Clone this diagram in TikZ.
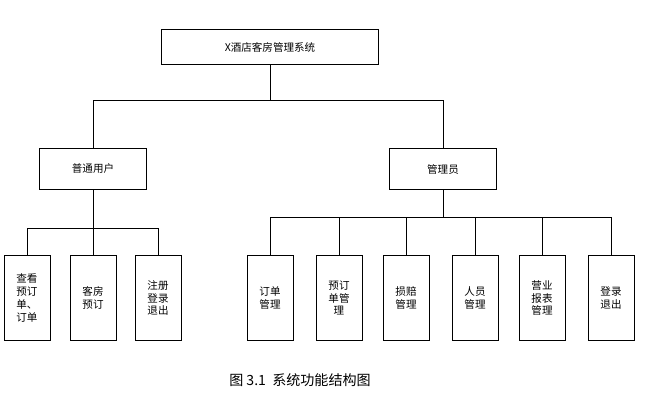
\documentclass[tikz,border=0pt]{standalone}
\usepackage{fontspec}
\setmainfont{Noto Sans CJK SC}
\begin{document}
\begin{tikzpicture}[%
        x = 0.03cm, y = -0.03cm,
        line width = 0.2mm,
        box/.style = {draw, minimum width = 3.2cm, minimum height = 1.25cm, font = \small},
        leaf/.style = {draw, minimum width = 1.38cm, minimum height = 2.55cm, align = center, font = \small}
    ]
        \useasboundingbox (0, 0) rectangle (668, 400);

        % Top of the tree.
        \node[box, minimum width = 6.5cm, minimum height = 1.05cm] (System) at (270, 47) {X酒店客房管理系统};

        % Second level.
        \node[box] (User) at (93, 169) {普通用户};
        \node[box] (Admin) at (443, 169) {管理员};

        % Leaves for the user.
        \node[leaf] (Check) at (27, 298) {查看\\预订\\单、\\订单};
        \node[leaf] (Book) at (93, 298) {客房\\预订};
        \node[leaf] (Login) at (158, 298) {注册\\登录\\退出};

        % Leaves for the admin.
        \node[leaf] (Orders) at (270, 298) {订单\\管理};
        \node[leaf] (Bookings) at (339, 298) {预订\\单管\\理};
        \node[leaf] (Damage) at (406, 298) {损赔\\管理};
        \node[leaf] (Staff) at (475, 298) {人员\\管理};
        \node[leaf] (Report) at (542, 298) {营业\\报表\\管理};
        \node[leaf] (Exit) at (611, 298) {登录\\退出};

        % Connectors between the levels.
        \coordinate (Top_Bar) at (270, 100);
        \coordinate (User_Bar) at (93, 228);
        \coordinate (Admin_Bar) at (443, 217);

        \draw (System) -- (Top_Bar);
        \foreach \n in {User, Admin}
            \draw (Top_Bar) -| (\n);
        \draw (User) -- (User_Bar);
        \foreach \n in {Check, Book, Login}
            \draw (User_Bar) -| (\n);
        \draw (Admin) -- (Admin_Bar);
        \foreach \n in {Orders, Bookings, Damage, Staff, Report, Exit}
            \draw (Admin_Bar) -| (\n);

        % Caption.
        \node[font = \large] (Caption) at (300, 380) {图 3.1\ \ 系统功能结构图};
    \end{tikzpicture}
\end{document}
